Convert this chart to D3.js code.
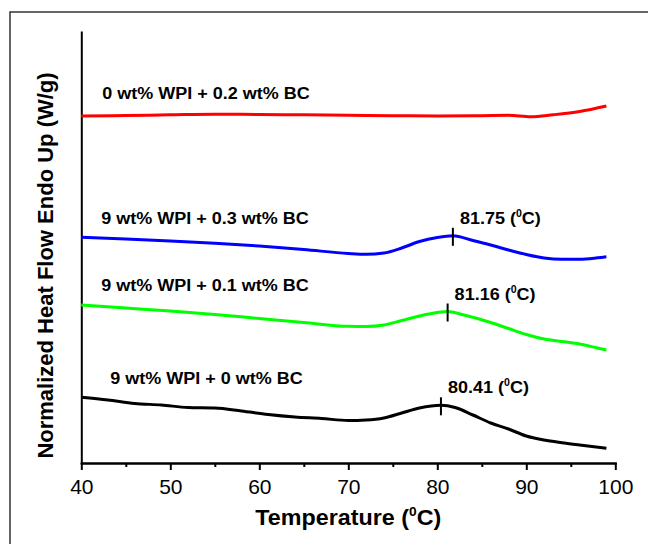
<!DOCTYPE html>
<html>
<head>
<meta charset="utf-8">
<script src="https://cdn.jsdelivr.net/npm/d3@7"></script>
<style>
  html, body { margin: 0; padding: 0; background: #fff; }
  svg { display: block; }
  text { font-family: "Liberation Sans", Arial, sans-serif; fill: #000; }
</style>
</head>
<body>
<div id="chart"></div>
<script>
'use strict';

// DSC thermograms, heat flow in arbitrary offset units (W/g)
var seriesNames = [
    '0 wt% WPI + 0.2 wt% BC',
    '9 wt% WPI + 0.3 wt% BC',
    '9 wt% WPI + 0.1 wt% BC',
    '9 wt% WPI + 0 wt% BC'
];
var seriesColors = ['#ff0000', '#0000ff', '#00ff00', '#000000'];

var tempBC02 = [40, 45, 50, 55, 60, 65, 70, 75, 80, 85, 88, 90.5, 93, 96, 99];
var flowBC02 = [3.470, 3.475, 3.482, 3.488, 3.485, 3.482, 3.477, 3.473, 3.470, 3.473, 3.477, 3.462, 3.482, 3.515, 3.570];

var tempBC03 = [40, 45, 50, 55, 60, 65, 70, 72, 74, 76, 78, 80, 81.75, 84, 86, 88, 90, 92, 94, 96, 98, 99];
var flowBC03 = [2.257, 2.240, 2.220, 2.197, 2.170, 2.135, 2.095, 2.087, 2.100, 2.150, 2.215, 2.255, 2.272, 2.225, 2.180, 2.130, 2.085, 2.050, 2.037, 2.037, 2.052, 2.063];

var tempBC01 = [40, 45, 50, 55, 60, 65, 70, 72, 74, 76, 78, 80, 81.16, 83, 86, 88, 90, 92, 94, 96, 98, 99];
var flowBC01 = [1.580, 1.550, 1.520, 1.485, 1.445, 1.405, 1.367, 1.365, 1.380, 1.425, 1.470, 1.505, 1.515, 1.480, 1.405, 1.345, 1.285, 1.240, 1.215, 1.190, 1.150, 1.130];

var tempBC00 = [40, 43, 46, 49, 52, 55, 58, 61, 64, 67, 70, 72, 74, 76, 78, 80.41, 82, 84, 86, 88, 90, 92, 94, 96, 99];
var flowBC00 = [0.657, 0.630, 0.595, 0.580, 0.555, 0.550, 0.520, 0.485, 0.460, 0.445, 0.425, 0.430, 0.450, 0.500, 0.550, 0.577, 0.555, 0.480, 0.400, 0.340, 0.270, 0.230, 0.203, 0.180, 0.147];

var seriesTemps = [tempBC02, tempBC03, tempBC01, tempBC00];
var seriesFlows = [flowBC02, flowBC03, flowBC01, flowBC00];

var peakTemps = [null, 81.75, 81.16, 80.41];
var peakLabels = ['', '81.75', '81.16', '80.41'];

var xMajorTicks = [40, 50, 60, 70, 80, 90, 100];
var xMinorTicks = [45, 55, 65, 75, 85, 95];

var WIDTH = 648;
var HEIGHT = 544;
var FONT_STRETCH = 1.06;

var svg = d3.select('#chart').append('svg')
    .attr('width', WIDTH)
    .attr('height', HEIGHT);

// outer frame (top and left edges only are visible)
svg.append('path')
    .attr('d', 'M10,' + HEIGHT + 'V12H' + WIDTH)
    .attr('fill', 'none')
    .attr('stroke', '#333')
    .attr('stroke-width', 1.5);

var x = d3.scaleLinear().domain([40, 100]).range([81.3, 615.3]);
var y = d3.scaleLinear().domain([0, 4.31]).range([463, 32]);

function styleAxis(g) {
    g.selectAll('path, line').attr('stroke', '#000').attr('stroke-width', 2);
    g.select('.domain').attr('stroke-linecap', 'square');
}

svg.append('g')
    .attr('transform', 'translate(0,' + y(0) + ')')
    .call(d3.axisBottom(x).tickValues(xMinorTicks).tickSize(4).tickSizeOuter(0).tickFormat(''))
    .call(styleAxis);

var xAxis = svg.append('g')
    .attr('transform', 'translate(0,' + y(0) + ')')
    .call(d3.axisBottom(x).tickValues(xMajorTicks).tickSize(7).tickSizeOuter(0).tickPadding(9))
    .call(styleAxis);

xAxis.selectAll('text')
    .attr('font-size', 21)
    .attr('font-family', '"Liberation Sans", Arial, sans-serif')
    .attr('fill', '#000');

svg.append('g')
    .attr('transform', 'translate(' + x(40) + ',0)')
    .call(d3.axisLeft(y).tickValues([]).tickSizeOuter(0))
    .call(styleAxis);

// axis titles
var xTitle = svg.append('text')
    .attr('transform', 'translate(' + ((x(40) + x(100)) / 2) + ',525) scale(' + FONT_STRETCH + ',1)')
    .attr('text-anchor', 'middle')
    .attr('font-size', 22)
    .attr('font-weight', 'bold');
xTitle.append('tspan').text('Temperature (');
xTitle.append('tspan').attr('font-size', 13).attr('dy', -9).text('0');
xTitle.append('tspan').attr('dy', 9).text('C)');

svg.append('text')
    .attr('transform', 'translate(53,' + ((y(0) + y(4.31)) / 2 + 18) + ') rotate(-90)')
    .attr('text-anchor', 'middle')
    .attr('font-size', 22)
    .attr('font-weight', 'bold')
    .text('Normalized Heat Flow Endo Up (W/g)');

var line = d3.line()
    .x(function(d) { return x(d[0]); })
    .y(function(d) { return y(d[1]); })
    .curve(d3.curveMonotoneX);

function flowAt(temps, flows, t) {
    var i = d3.bisectLeft(temps, t);
    if(i <= 0) return flows[0];
    if(i >= temps.length) return flows[flows.length - 1];
    var f = (t - temps[i - 1]) / (temps[i] - temps[i - 1]);
    return flows[i - 1] + f * (flows[i] - flows[i - 1]);
}

var labelDx = [21, 20, 20, 29];
var labelDy = [17, 13, 14, 13];

for(var i = 0; i < seriesNames.length; i++) {
    var temps = seriesTemps[i];
    var flows = seriesFlows[i];
    var pts = temps.map(function(t, j) { return [t, flows[j]]; });

    svg.append('path')
        .datum(pts)
        .attr('d', line)
        .attr('fill', 'none')
        .attr('stroke', seriesColors[i])
        .attr('stroke-width', 3)
        .attr('stroke-linejoin', 'round');

    svg.append('text')
        .attr('transform', 'translate(' + (x(40) + labelDx[i]) + ',' + (y(flows[0]) - labelDy[i]) + ') scale(' + FONT_STRETCH + ',1)')
        .attr('font-size', 17)
        .attr('font-weight', 'bold')
        .text(seriesNames[i]);

    if(peakTemps[i] !== null) {
        var px = x(peakTemps[i]);
        var py = y(flowAt(temps, flows, peakTemps[i]));

        svg.append('line')
            .attr('x1', px).attr('x2', px)
            .attr('y1', py - 8).attr('y2', py + 10)
            .attr('stroke', '#000')
            .attr('stroke-width', 2);

        var peakText = svg.append('text')
            .attr('transform', 'translate(' + (px + 7) + ',' + (py - 12) + ') scale(' + FONT_STRETCH + ',1)')
            .attr('font-size', 17)
            .attr('font-weight', 'bold');
        peakText.append('tspan').text(peakLabels[i] + ' (');
        peakText.append('tspan').attr('font-size', 10).attr('dy', -7).text('0');
        peakText.append('tspan').attr('dy', 7).text('C)');
    }
}
</script>
</body>
</html>
